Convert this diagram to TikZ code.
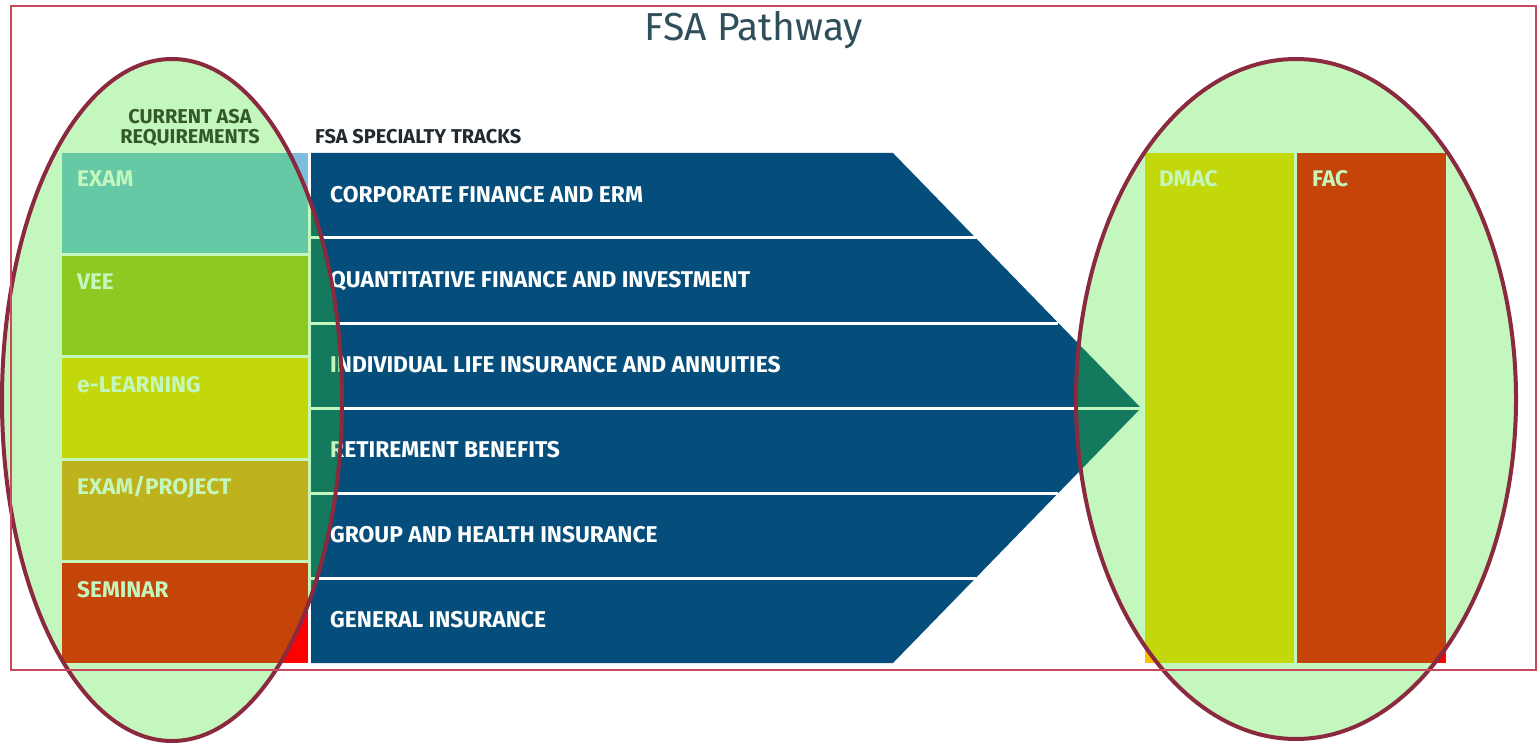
\documentclass[tikz,border=0pt]{standalone}
\usepackage{fontspec}
\setmainfont{Fira Sans}
\newfontfamily\titlefont{Fira Sans}
\usetikzlibrary{positioning}

\definecolor{ovalgreen}{HTML}{C4F7BE}
\definecolor{ovalred}{HTML}{8B2A3F}
\definecolor{framered}{HTML}{C8485C}
\definecolor{trackblue}{HTML}{054E7C}
\definecolor{trackgreen}{HTML}{137A5E}
\definecolor{examblue}{HTML}{7DBDE0}
\definecolor{examteal}{HTML}{66C9A6}
\definecolor{veegreen}{HTML}{8DC921}
\definecolor{limegreen}{HTML}{C3D80A}
\definecolor{olivegold}{HTML}{BEB31C}
\definecolor{rustred}{HTML}{C4440A}
\definecolor{purered}{HTML}{FF0000}
\definecolor{goldyellow}{HTML}{FFC000}
\definecolor{reqgreen}{HTML}{33592B}
\definecolor{headdark}{HTML}{222A30}
\definecolor{titleslate}{HTML}{2F4F5A}

\begin{document}
\begin{tikzpicture}[x=1pt,y=-1pt,
  track text/.style={anchor=base west,inner sep=0pt,font=\fontsize{22.8}{24}\selectfont\bfseries},
  box text/.style={anchor=base west,inner sep=0pt,text=ovalgreen,font=\fontsize{22.6}{24}\selectfont\bfseries},
  head text/.style={anchor=base,inner sep=0pt,font=\fontsize{20}{22}\selectfont\bfseries}]

\useasboundingbox (0,0) rectangle (1538,743);
\fill[white] (0,0) rectangle (1538,743);

% tracks and boxes, plain colours
\fill[trackblue] (311,153) -- (893,153) -- (1141,408) -- (893,663) -- (311,663) -- cycle;
\foreach \y/\x in {238/976,323/1058,408/1141,493/1058,578/976}
  \draw[white,line width=3pt] (311,\y) -- (\x,\y);
\foreach \name [count=\i] in {CORPORATE FINANCE AND ERM,QUANTITATIVE FINANCE AND INVESTMENT,INDIVIDUAL LIFE INSURANCE AND ANNUITIES,RETIREMENT BENEFITS,GROUP AND HEALTH INSURANCE,GENERAL INSURANCE}
  \node[track text,white] (track\i) at (330,{117.5+85*\i}) {\name};

\fill[examblue]   (62,153)   rectangle (308,252.6);
\fill[veegreen]   (62,255.6) rectangle (308,355.2);
\fill[limegreen]  (62,358.2) rectangle (308,457.8);
\fill[olivegold]  (62,460.8) rectangle (308,560.4);
\fill[purered]    (62,563.4) rectangle (308,663);
\fill[goldyellow] (1145,153) rectangle (1294,663);
\fill[purered]    (1297,153) rectangle (1446,663);

% the same, seen through the two ovals
\begin{scope}
  \clip (172,400) ellipse [x radius=170,y radius=341]
        (1296,399) ellipse [x radius=220,y radius=340];
  \fill[ovalgreen] (0,0) rectangle (1538,743);
  \fill[trackgreen] (311,153) -- (893,153) -- (1141,408) -- (893,663) -- (311,663) -- cycle;
  \foreach \y/\x in {238/976,323/1058,408/1141,493/1058,578/976}
    \draw[ovalgreen,line width=3pt] (311,\y) -- (\x,\y);
  \foreach \name [count=\i] in {CORPORATE FINANCE AND ERM,QUANTITATIVE FINANCE AND INVESTMENT,INDIVIDUAL LIFE INSURANCE AND ANNUITIES,RETIREMENT BENEFITS,GROUP AND HEALTH INSURANCE,GENERAL INSURANCE}
    \node[track text,ovalgreen] (trackin\i) at (330,{117.5+85*\i}) {\name};
  \fill[examteal]  (62,153)   rectangle (308,252.6);
  \fill[veegreen]  (62,255.6) rectangle (308,355.2);
  \fill[limegreen] (62,358.2) rectangle (308,457.8);
  \fill[olivegold] (62,460.8) rectangle (308,560.4);
  \fill[rustred]   (62,563.4) rectangle (308,663);
  \fill[limegreen] (1145,153) rectangle (1294,663);
  \fill[rustred]   (1297,153) rectangle (1446,663);
\end{scope}

\node[box text] (exam)    at (77,187)    {EXAM};
\node[box text] (vee)     at (77,289.6)  {VEE};
\node[box text] (elearn)  at (77,392.2)  {e-LEARNING};
\node[box text] (project) at (77,494.8)  {EXAM/PROJECT};
\node[box text] (seminar) at (77,597.4)  {SEMINAR};
\node[box text] (dmac)    at (1159,187)  {DMAC};
\node[box text] (fac)     at (1312,187)  {FAC};

% oval outlines
\draw[ovalred,line width=4pt] (172,400) ellipse [x radius=170,y radius=341];
\draw[ovalred,line width=4pt] (1296,399) ellipse [x radius=220,y radius=340];

\draw[framered,line width=1.5pt] (11,6) rectangle (1536,670);

\node[head text,text=reqgreen] (asa) at (190,124) {CURRENT ASA};
\node[head text,text=reqgreen] (req) at (190,143.5) {REQUIREMENTS};
\node[head text,anchor=base west,text=headdark] (tracks) at (315,143.5) {FSA SPECIALTY TRACKS};
\node[anchor=base,inner sep=0pt,text=titleslate,font=\titlefont\fontsize{39}{42}\selectfont] (title) at (754,41) {FSA Pathway};
\end{tikzpicture}
\end{document}
